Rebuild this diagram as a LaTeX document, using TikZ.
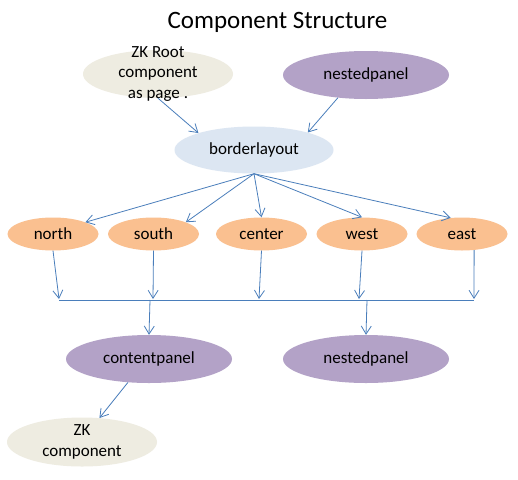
\documentclass[tikz,border=0pt]{standalone}
\usepackage{fontspec}
\setmainfont{Carlito}
\usetikzlibrary{shapes.geometric,arrows.meta}
\definecolor{zkgray}{RGB}{238,236,225}
\definecolor{panel}{RGB}{179,162,199}
\definecolor{layout}{RGB}{220,230,242}
\definecolor{region}{RGB}{250,192,144}
\definecolor{wire}{RGB}{74,126,187}
\newcommand{\blobfont}{\fontsize{17}{20.5}\selectfont}
\tikzset{
  blob/.style={ellipse,inner sep=0pt,font=\blobfont},
  zkblob/.style={blob,fill=zkgray,minimum width=150,minimum height=48},
  panelblob/.style={blob,fill=panel,minimum width=166,minimum height=48},
  layoutblob/.style={blob,fill=layout,minimum width=159,minimum height=47},
  regionblob/.style={blob,fill=region,minimum width=91,minimum height=33},
  wire/.style={draw=wire,line width=0.8pt},
  arr/.style={wire,-{Straight Barb[length=8,width=10]}}
}
\begin{document}
\begin{tikzpicture}[x=1pt,y=-1pt]
\useasboundingbox[fill=white] (0,0) rectangle (518,479);
\node[anchor=base,font=\fontsize{25}{30}\selectfont] (title) at (277.5,28) {Component Structure};
% top row
\node[zkblob,label={[align=center,font=\blobfont]center:ZK Root\\component\\as page .}] (zkroot) at (158,74) {};
\node[panelblob] (nestedtop) at (366,75) {nestedpanel};
\node[layoutblob] (border) at (254,150) {borderlayout};
\draw[arr] (zkroot.south) -- (border.163);
\draw[arr] (nestedtop.219) -- (border.18);
% regions
\foreach \name/\x in {north/53,south/153.5,center/261.5,west/362,east/462}
  \node[regionblob] (\name) at (\x,234) {\name};
\draw[arr] (border.south) -- (north.20);
\draw[arr] (border.south) -- (south.20);
\draw[arr] (border.south) -- (center.north);
\draw[arr] (border.south) -- (west.north);
\draw[arr] (border.south) -- (east.125);
% bus
\coordinate (bnorth) at (59,299);
\coordinate (bsouth) at (153,299);
\coordinate (bcenter) at (259,299);
\coordinate (bwest) at (359,299);
\coordinate (beast) at (474,299);
\draw[arr] (north.south) -- (bnorth);
\draw[arr] (south.south) -- (bsouth);
\draw[arr] (center.south) -- (bcenter);
\draw[arr] (west.south) -- (bwest);
\draw[arr] (east.-53) -- (beast);
\coordinate (busl) at (59,300);
\coordinate (busr) at (474,300);
\draw[wire] (busl) -- (busr);
\coordinate (tapcontent) at (150,300);
\coordinate (tapnested) at (367,300);
% bottom
\node[panelblob] (content) at (149,359) {contentpanel};
\node[panelblob] (nestedlow) at (366,359) {nestedpanel};
\draw[arr] (tapcontent) -- (content.north);
\draw[arr] (tapnested) -- (nestedlow.north);
\node[zkblob,minimum height=49,label={[align=center,font=\blobfont]center:ZK\\component}] (zkcomp) at (82,442) {};
\draw[arr] (content.228) -- (zkcomp.54);
\end{tikzpicture}
\end{document}
